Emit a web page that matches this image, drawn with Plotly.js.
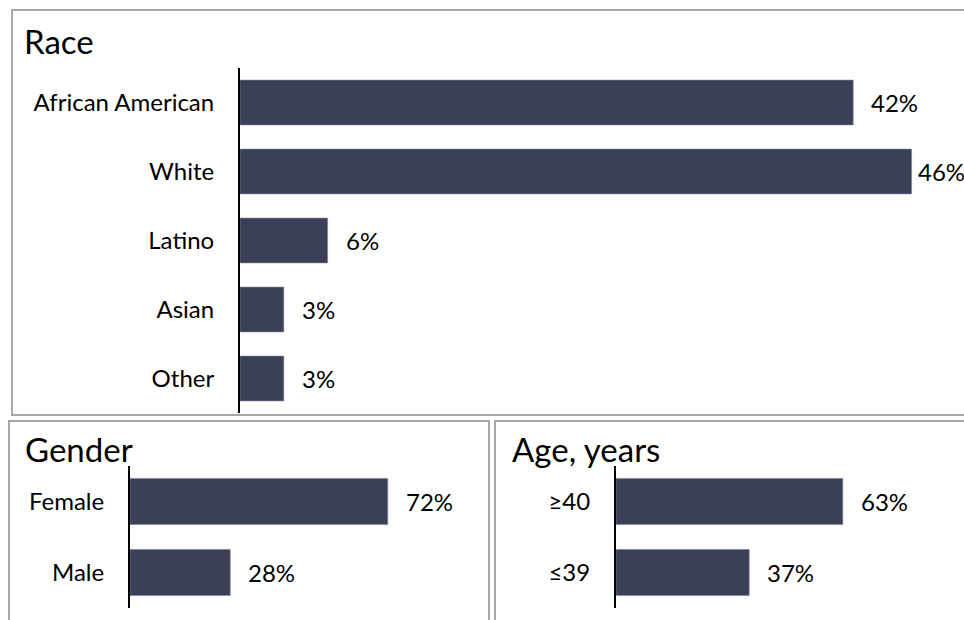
<!DOCTYPE html>
<html><head><meta charset="utf-8">
<script src="https://cdn.plot.ly/plotly-3.0.1.min.js"></script>
<style>html,body{margin:0;padding:0;background:#fff}#chart{width:964px;height:620px}</style>
</head><body><div id="chart"></div>
<script>
// ---- data ----
const raceCategories = ['African American', 'White', 'Latino', 'Asian', 'Other'];
const raceValues = [42, 46, 6, 3, 3];
const genderCategories = ['Female', 'Male'];
const genderValues = [72, 28];
const ageCategories = ['≥40', '≤39'];
const ageValues = [63, 37];
const panelTitles = ['Race', 'Gender', 'Age, years'];

// ---- layout helpers (pixels -> paper) ----
const W = 964, H = 620;
const px = v => v / W;
const py = v => 1 - v / H;
const FONT = 'Lato, Calibri, sans-serif';
const BAR = '#3c3f58';
const LABEL_SIZE = 24;
const TITLE_SIZE = 33;

const panels = [
  {cats: raceCategories, vals: raceValues, xa: 'x', ya: 'y', dom: [240, 964], ydom: [68, 413], xmax: 724 / 14.6},
  {cats: genderCategories, vals: genderValues, xa: 'x2', ya: 'y2', dom: [130, 489], ydom: [466, 608], xmax: 359 / 3.58},
  {cats: ageCategories, vals: ageValues, xa: 'x3', ya: 'y3', dom: [616, 964], ydom: [466, 608], xmax: 348 / 3.6}
];

const data = panels.map(p => ({
  type: 'bar', orientation: 'h',
  x: p.vals, y: p.cats, xaxis: p.xa, yaxis: p.ya,
  marker: {color: BAR, line: {color: '#7f8397', width: 0.6}},
  hoverinfo: 'x+y'
}));

const layout = {
  width: W, height: H,
  margin: {l: 0, r: 0, t: 0, b: 0},
  paper_bgcolor: '#fff', plot_bgcolor: 'rgba(0,0,0,0)',
  showlegend: false,
  bargap: 0.35,
  font: {family: FONT, size: LABEL_SIZE, color: '#000'},
  annotations: [],
  shapes: [
    {type: 'rect', xref: 'paper', yref: 'paper', x0: px(12), x1: px(970), y0: py(415), y1: py(10), line: {color: '#a8a8a8', width: 2}},
    {type: 'rect', xref: 'paper', yref: 'paper', x0: px(9), x1: px(489), y0: py(630), y1: py(421), line: {color: '#a8a8a8', width: 2}},
    {type: 'rect', xref: 'paper', yref: 'paper', x0: px(495), x1: px(970), y0: py(630), y1: py(421), line: {color: '#a8a8a8', width: 2}}
  ]
};

panels.forEach((p, i) => {
  const sfx = i === 0 ? '' : String(i + 1);
  layout['xaxis' + sfx] = {
    domain: [px(p.dom[0]), px(p.dom[1])], range: [0, p.xmax],
    visible: false, fixedrange: true, anchor: p.ya
  };
  layout['yaxis' + sfx] = {
    domain: [py(p.ydom[1]), py(p.ydom[0])],
    type: 'category', categoryorder: 'array', categoryarray: p.cats,
    range: [p.cats.length - 0.5, -0.5],
    showline: true, linecolor: '#000', linewidth: 2,
    showgrid: false, zeroline: false, ticks: '',
    ticklabelstandoff: 19,
    tickfont: {family: FONT, size: LABEL_SIZE, color: '#000'},
    anchor: p.xa, fixedrange: true
  };
  // value labels
  const pxPerUnit = (p.dom[1] - p.dom[0]) / p.xmax;
  p.vals.forEach((v, j) => {
    const txt = v + '%';
    const endPx = p.dom[0] + v * pxPerUnit;
    const estW = txt.length * LABEL_SIZE * 0.58;
    const shift = (endPx + 16 + estW > W) ? 4 : 16;
    layout.annotations.push({
      xref: p.xa, yref: p.ya, x: v, y: p.cats[j],
      text: txt, showarrow: false, xanchor: 'left', yanchor: 'middle', xshift: shift,
      font: {family: FONT, size: LABEL_SIZE, color: '#000'}
    });
  });
});

// panel titles
const titlePos = [[22, 41], [23, 449], [510, 449]];
panelTitles.forEach((t, i) => {
  layout.annotations.push({
    xref: 'paper', yref: 'paper', x: px(titlePos[i][0]), y: py(titlePos[i][1]),
    text: t, showarrow: false, xanchor: 'left', yanchor: 'middle',
    font: {family: FONT, size: TITLE_SIZE, color: '#000'}
  });
});

Plotly.newPlot('chart', data, layout, {displayModeBar: false, staticPlot: true});
</script>
</body></html>
